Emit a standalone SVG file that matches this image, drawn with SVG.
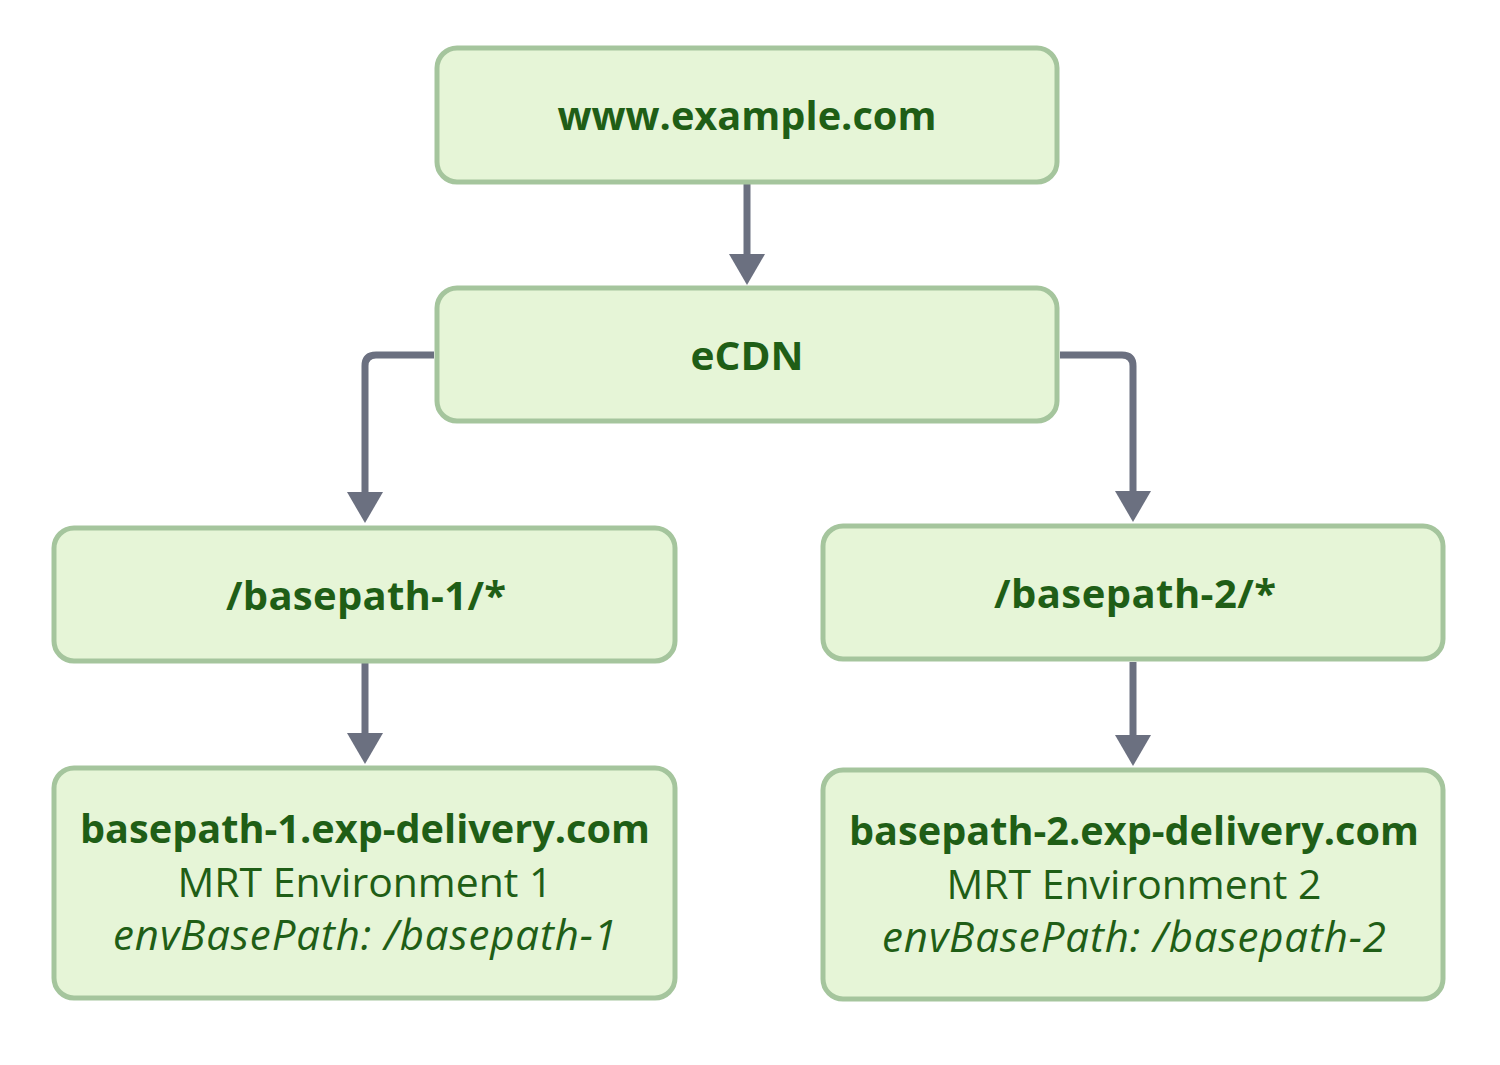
<svg xmlns="http://www.w3.org/2000/svg" width="1500" height="1065" viewBox="0 0 1500 1065">
<defs>
<style>
.box{fill:#e6f5d7;stroke:#a5c59d;stroke-width:5}
.t{font-family:"Open Sans","Noto Sans","DejaVu Sans",sans-serif;fill:#1f5e16;text-anchor:middle;font-size:40px}
.b{font-weight:bold}
.n{font-size:41px}
.i{font-style:italic;font-size:42px}
.c{fill:none;stroke:#6b7080;stroke-width:7}
.h{fill:#6b7080}
</style>
</defs>
<rect width="1500" height="1065" fill="#ffffff"/>
<g id="connectors">
<path class="c" d="M747,184 V254" />
<path class="h" d="M729,254 L765,254 L747,285 Z"/>
<path class="c" d="M434,355 H376 Q365,355 365,366 V492" />
<path class="h" d="M347,492 L383,492 L365,523 Z"/>
<path class="c" d="M1060,355 H1122 Q1133,355 1133,366 V491" />
<path class="h" d="M1115,491 L1151,491 L1133,522 Z"/>
<path class="c" d="M365,663 V733" />
<path class="h" d="M347,733 L383,733 L365,764 Z"/>
<path class="c" d="M1133,662 V735" />
<path class="h" d="M1115,735 L1151,735 L1133,766 Z"/>
</g>
<g id="node-www">
<rect class="box" x="437" y="48" width="620" height="134" rx="20"/>
<text class="t b" x="747" y="130" textLength="379" lengthAdjust="spacingAndGlyphs">www.example.com</text>
</g>
<g id="node-ecdn">
<rect class="box" x="437" y="288" width="620" height="133" rx="20"/>
<text class="t b" x="747" y="370" textLength="113" lengthAdjust="spacingAndGlyphs">eCDN</text>
</g>
<g id="node-bp1">
<rect class="box" x="54" y="528" width="621" height="133" rx="20"/>
<text class="t b" x="366" y="610" textLength="280" lengthAdjust="spacing">/basepath-1/*</text>
</g>
<g id="node-bp2">
<rect class="box" x="823" y="526" width="620" height="133" rx="20"/>
<text class="t b" x="1135" y="608" textLength="282" lengthAdjust="spacing">/basepath-2/*</text>
</g>
<g id="node-env1">
<rect class="box" x="54" y="768" width="621" height="230" rx="20"/>
<text class="t b" x="365" y="843" textLength="570" lengthAdjust="spacingAndGlyphs">basepath-1.exp-delivery.com</text>
<text class="t n" x="365" y="897" textLength="375" lengthAdjust="spacingAndGlyphs">MRT Environment 1</text>
<text class="t i" x="365" y="950" textLength="504" lengthAdjust="spacing">envBasePath: /basepath-1</text>
</g>
<g id="node-env2">
<rect class="box" x="823" y="770" width="620" height="229" rx="20"/>
<text class="t b" x="1134" y="845" textLength="570" lengthAdjust="spacingAndGlyphs">basepath-2.exp-delivery.com</text>
<text class="t n" x="1134" y="899" textLength="375" lengthAdjust="spacingAndGlyphs">MRT Environment 2</text>
<text class="t i" x="1134" y="952" textLength="504" lengthAdjust="spacing">envBasePath: /basepath-2</text>
</g>
</svg>
